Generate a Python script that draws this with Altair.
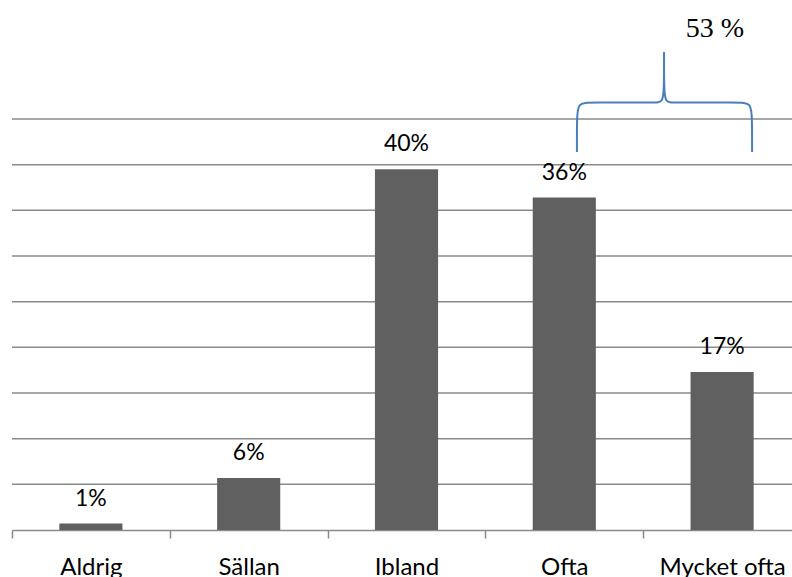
import altair as alt
import pandas as pd

# ---- data ----
categories = ["Aldrig", "Sällan", "Ibland", "Ofta", "Mycket ofta"]
values = [0.7, 5.7, 39.5, 36.4, 17.3]
value_labels = ["1%", "6%", "40%", "36%", "17%"]
grid_values = [5, 10, 15, 20, 25, 30, 35, 40, 45]

# curly brace annotation (x in category-index units, y in %)
brace_side = ["left"] * 8 + ["right"] * 8
brace_order = list(range(8)) * 2
brace_x = [3.58, 3.58, 3.585, 3.663, 4.08, 4.125, 4.132, 4.132,
           4.69, 4.69, 4.685, 4.607, 4.184, 4.139, 4.132, 4.132]
brace_y = [41.4, 44.9, 46.8, 46.8, 46.8, 46.8, 48.5, 52.3,
           41.4, 44.9, 46.8, 46.8, 46.8, 46.8, 48.5, 52.3]
sum_label = ["53 %"]
sum_x = [4.455]
sum_y = [54.0]

GRAY = "#8a8a8a"
FONT = "Lato"
RANGE = [0, 789]

bars_df = pd.DataFrame({"cat": categories, "value": values, "label": value_labels})
grid_df = pd.DataFrame({"g": grid_values})
brace_df = pd.DataFrame({"side": brace_side, "order": brace_order, "bx": brace_x, "by": brace_y})
sum_df = pd.DataFrame({"t": sum_label, "sx": sum_x, "sy": sum_y})

yscale = alt.Scale(domain=[0, 45], nice=False)
bandscale = alt.Scale(range=RANGE, paddingInner=0, paddingOuter=0)
xaxis = alt.Axis(title=None, labelAngle=0, tickBand="extent", tickSize=8,
                 tickColor=GRAY, tickWidth=1.5, domainColor=GRAY, domainWidth=1.5,
                 labelFont=FONT, labelFontSize=24, labelColor="black",
                 labelBaseline="alphabetic", labelPadding=36, grid=False)

xband = alt.X("cat:N", sort=categories, scale=bandscale, axis=xaxis)
yenc = alt.Y("value:Q", scale=yscale, axis=None)

grid = alt.Chart(grid_df).mark_rule(color=GRAY, strokeWidth=1.5).encode(
    y=alt.Y("g:Q", scale=yscale, axis=None)
)
bars = alt.Chart(bars_df).mark_bar(color="#606060", width=alt.RelativeBandSize(0.4)).encode(
    x=xband, y=yenc
)
text = alt.Chart(bars_df).mark_text(
    dy=-18, baseline="alphabetic", font=FONT, fontSize=23, color="black"
).encode(x=xband, y=yenc, text="label:N")
base_layer = alt.layer(grid, bars, text)

xq = alt.Scale(domain=[0, 5], range=RANGE, nice=False, zero=False)
brace = alt.Chart(brace_df).mark_line(
    color="#4a7ebb", strokeWidth=2, interpolate="basis"
).encode(
    x=alt.X("bx:Q", scale=xq, axis=None),
    y=alt.Y("by:Q", scale=yscale, axis=None),
    detail="side:N",
    order="order:Q",
)
sumtext = alt.Chart(sum_df).mark_text(
    font="Liberation Serif", fontSize=28, color="black", baseline="alphabetic", align="center"
).encode(
    x=alt.X("sx:Q", scale=xq, axis=None),
    y=alt.Y("sy:Q", scale=yscale, axis=None),
    text="t:N",
)
note_layer = alt.layer(brace, sumtext)

chart = alt.layer(base_layer, note_layer).resolve_scale(x="independent").properties(
    width=780, height=411,
    autosize=alt.AutoSizeParams(type="none"),
    padding={"left": 12, "top": 119, "right": 0, "bottom": 47},
    background="white",
).configure_view(stroke=None)

chart.save("out.html", embed_options={"renderer": "svg", "actions": False})
